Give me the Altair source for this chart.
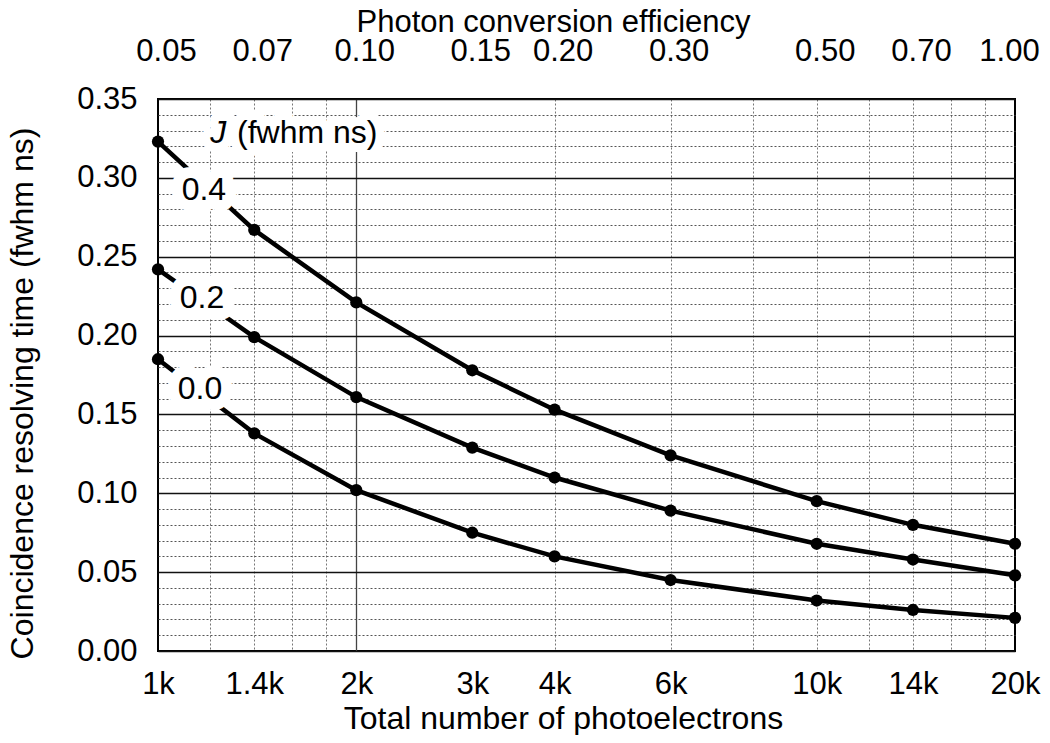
import altair as alt
import pandas as pd

# ---- data ----
n_photoelectrons = [1000, 1400, 2000, 3000, 4000, 6000, 10000, 14000, 20000]
tau_j04 = [0.323, 0.267, 0.221, 0.178, 0.153, 0.124, 0.095, 0.080, 0.068]
tau_j02 = [0.242, 0.199, 0.161, 0.129, 0.110, 0.089, 0.068, 0.058, 0.048]
tau_j00 = [0.185, 0.138, 0.102, 0.075, 0.060, 0.045, 0.032, 0.026, 0.021]
j_names = ["0.4", "0.2", "0.0"]

bottom_tick_values = [1000, 1400, 2000, 3000, 4000, 6000, 10000, 14000, 20000]
efficiency_ticks = [0.05, 0.07, 0.10, 0.15, 0.20, 0.30, 0.50, 0.70, 1.00]
total_at_full_efficiency = 20000
x_grid_values = [1200, 1400, 1600, 1800, 2000, 4000, 6000, 8000, 10000,
                 12000, 14000, 16000, 18000]
y_tick_values = [round(i * 0.01, 2) for i in range(36)]

# curve labels (annotation anchors)
label_text = ["0.4", "0.2", "0.0"]
label_n = [1174, 1166, 1158]
label_tau = [0.2923, 0.2238, 0.1661]
header_italic = ["J"]
header_italic_n = [1200]
header_rest = ["(fwhm ns)"]
header_rest_n = [1318]
header_tau = [0.3285]

rows = []
for name, series in zip(j_names, [tau_j04, tau_j02, tau_j00]):
    for n, t in zip(n_photoelectrons, series):
        rows.append({"N": n, "tau": t, "J": name})
df = pd.DataFrame(rows)

lab = pd.DataFrame({"N": label_n, "tau": label_tau, "txt": label_text})
hdr_i = pd.DataFrame({"N": header_italic_n, "tau": header_tau, "txt": header_italic})
hdr_r = pd.DataFrame({"N": header_rest_n, "tau": header_tau, "txt": header_rest})

FONT = "Liberation Sans"
xscale = alt.Scale(type="log", domain=[1000, 20000], nice=False)
yscale = alt.Scale(domain=[0, 0.35], nice=False, zero=True)

minor_test = "abs(datum.value*20 - round(datum.value*20)) > 0.001"
y_axis = alt.Axis(
    values=y_tick_values,
    labelExpr="abs(datum.value*20 - round(datum.value*20)) > 0.001 ? '' : format(datum.value, '.2f')",
    labelOverlap=False,
    labelFontSize=31,
    labelPadding=21,
    labelFlush=False,
    ticks=False,
    domain=False,
    grid=True,
    gridDash={"condition": {"test": minor_test, "value": [2, 2]}, "value": []},
    gridColor={"condition": {"test": minor_test, "value": "#555555"}, "value": "#111111"},
    gridWidth={"condition": {"test": minor_test, "value": 1}, "value": 1.6},
    title="Coincidence resolving time (fwhm ns)",
    titleFontSize=32,
    titleFontWeight="normal",
    titleAngle=-90,
    titleAlign="center",
    titleBaseline="alphabetic",
    titleX=-126,
    titleY=294,
)
y_enc = alt.Y("tau:Q", scale=yscale, axis=y_axis)

bottom_axis = alt.Axis(
    orient="bottom",
    values=bottom_tick_values,
    labelExpr="format(datum.value/1000, '~g') + 'k'",
    labelFontSize=31,
    labelPadding=18,
    labelFlush=False,
    labelOverlap=False,
    ticks=False,
    domain=False,
    grid=False,
    title="Total number of photoelectrons",
    titleFontSize=32,
    titleFontWeight="normal",
    titleBaseline="alphabetic",
    titleAlign="center",
    titleX=405,
    titleY=77,
)

grid_axis = alt.Axis(
    orient="bottom",
    values=x_grid_values,
    labels=False,
    ticks=False,
    domain=False,
    title=None,
    grid=True,
    gridDash={"condition": {"test": "datum.value == 2000", "value": []}, "value": [2, 2]},
    gridColor={"condition": {"test": "datum.value == 2000", "value": "#444444"}, "value": "#777777"},
    gridWidth={"condition": {"test": "datum.value == 2000", "value": 1.3}, "value": 1},
)

top_axis = alt.Axis(
    orient="top",
    values=[e * total_at_full_efficiency for e in efficiency_ticks],
    labelExpr=f"format(datum.value/{total_at_full_efficiency}, '.2f')",
    labelFontSize=31,
    labelPadding=32,
    labelFlush=False,
    labelOffset={"condition": {"test": f"datum.value >= {total_at_full_efficiency}", "value": -6},
                 "value": 8},
    labelOverlap=False,
    ticks=False,
    domain=False,
    grid=False,
    title="Photon conversion efficiency",
    titleFontSize=31,
    titleFontWeight="normal",
    titleBaseline="alphabetic",
    titleAlign="center",
    titleX=395,
    titleY=-68,
)

lines = alt.Chart(df).mark_line(color="black", strokeWidth=4.5).encode(
    x=alt.X("N:Q", scale=xscale, axis=bottom_axis),
    y=y_enc,
    detail="J:N",
    order="N:Q",
)

points = alt.Chart(df).mark_circle(color="black", size=150, opacity=1).encode(
    x=alt.X("N:Q", scale=xscale, axis=grid_axis),
    y=y_enc,
)


def text_layer(data, color, align, style="normal", halo=0, axis=None):
    kw = dict(font=FONT, fontSize=32, color=color, align=align,
              baseline="middle", fontStyle=style)
    if halo:
        kw.update(stroke="white", strokeWidth=halo, strokeJoin="round")
    return alt.Chart(data).mark_text(**kw).encode(
        x=alt.X("N:Q", scale=xscale, axis=axis),
        y=y_enc,
        text="txt:N",
    )


halo_lab = text_layer(lab, "white", "center", halo=22, axis=top_axis)
halo_hi = text_layer(hdr_i, "white", "left", style="italic", halo=18)
halo_hr = text_layer(hdr_r, "white", "left", halo=18)
txt_lab = text_layer(lab, "black", "center")
txt_hi = text_layer(hdr_i, "black", "left", style="italic")
txt_hr = text_layer(hdr_r, "black", "left")

chart = (
    alt.layer(lines, points, halo_lab, halo_hi, halo_hr, txt_lab, txt_hi, txt_hr)
    .resolve_axis(x="independent")
    .properties(
        width=857,
        height=552,
        autosize=alt.AutoSizeParams(type="none"),
        padding={"left": 150, "top": 91, "right": 27, "bottom": 84},
        background="white",
    )
    .configure_view(stroke="black", strokeWidth=2)
    .configure_axis(labelFont=FONT, titleFont=FONT, labelColor="black", titleColor="black")
    .configure_text(font=FONT)
)

chart.save("out.html", embed_options={"renderer": "svg", "actions": False})
